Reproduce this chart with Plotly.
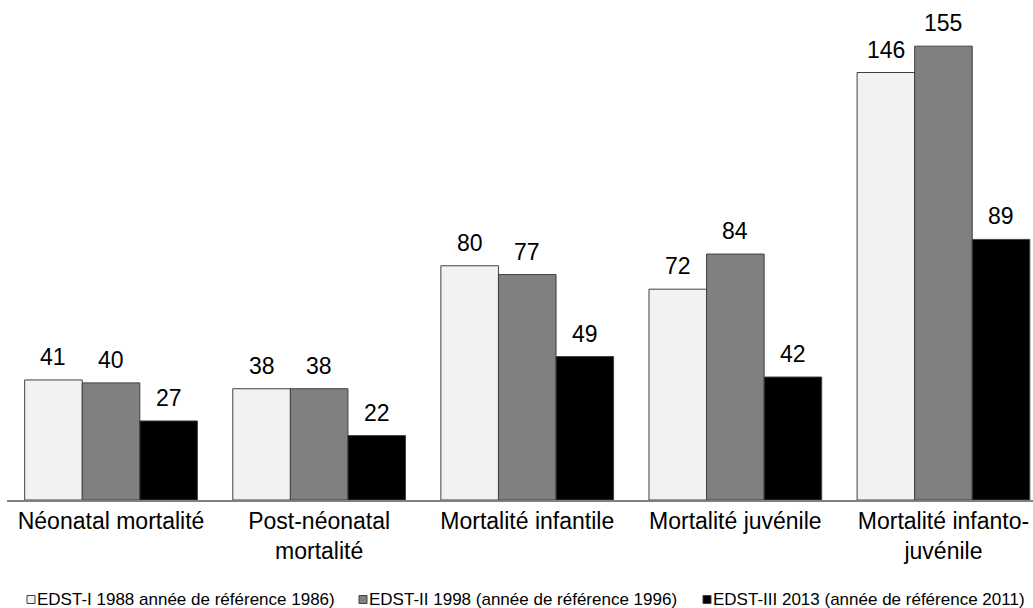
import plotly.graph_objects as go

categories = ["Néonatal mortalité", "Post-néonatal<br>mortalité", "Mortalité infantile",
              "Mortalité juvénile", "Mortalité infanto-<br>juvénile"]
series_names = ["EDST-I 1988 année de référence 1986)",
                "EDST-II 1998 (année de référence 1996)",
                "EDST-III 2013 (année de référence 2011)"]
edst1 = [41, 38, 80, 72, 146]
edst2 = [40, 38, 77, 84, 155]
edst3 = [27, 22, 49, 42, 89]
colors = ["#F2F2F2", "#808080", "#000000"]
outline = "#404040"

W, H = 1033, 608
L, R, T, B = 7, 0, 0, 108
PW, PH = W - L - R, H - T - B
CAT_PX = 208.1
BARGAP = 0.17
BAR_PX = CAT_PX * (1 - BARGAP) / 3

FONT = "Liberation Sans, Arial, sans-serif"

fig = go.Figure()
all_series = [edst1, edst2, edst3]
for i, (name, vals, col) in enumerate(zip(series_names, all_series, colors)):
    fig.add_trace(go.Bar(
        x=categories, y=vals, name=name,
        marker=dict(color=col, line=dict(color=outline, width=1)),
        cliponaxis=False,
    ))
    # value labels above each bar
    for cat, v in zip(categories, vals):
        fig.add_annotation(x=cat, y=v, xref="x", yref="y", text=str(v),
                           showarrow=False, yanchor="bottom", xanchor="center",
                           xshift=(i - 1) * BAR_PX, yshift=8,
                           font=dict(family=FONT, size=23, color="#000000"))

# manual legend (single row, tight spacing as in reference)
def px_x(px):
    return (px - L) / PW

def px_y(py):
    return (T + PH - py) / PH

sym_left = [27, 359, 703]
sym_size = 8
leg_cy = 599.5
for name, col, sx in zip(series_names, colors, sym_left):
    fig.add_shape(type="rect", xref="paper", yref="paper",
                  x0=px_x(sx), x1=px_x(sx + sym_size),
                  y0=px_y(leg_cy + sym_size / 2), y1=px_y(leg_cy - sym_size / 2),
                  fillcolor=col, line=dict(color=outline, width=1))
    fig.add_annotation(xref="paper", yref="paper", x=px_x(sx + sym_size), y=px_y(leg_cy),
                       xanchor="left", yanchor="middle", showarrow=False,
                       text=name, font=dict(family=FONT, size=17, color="#000000"))

fig.update_layout(
    width=W, height=H,
    margin=dict(l=L, r=R, t=T, b=B),
    paper_bgcolor="white", plot_bgcolor="white",
    barmode="group", bargap=BARGAP, bargroupgap=0,
    font=dict(family=FONT, color="#000000"),
    xaxis=dict(showline=True, linecolor="#808080", linewidth=1.5, ticks="",
               tickfont=dict(size=23, color="#000000"), showgrid=False,
               range=[-0.5, -0.5 + PW / CAT_PX]),
    yaxis=dict(range=[0, PH / 2.928], visible=False, showgrid=False, zeroline=False),
    showlegend=False,
)
fig.write_html("out.html", config={"displayModeBar": False},
               post_script="document.body.style.margin='0';document.body.style.overflow='hidden';")
